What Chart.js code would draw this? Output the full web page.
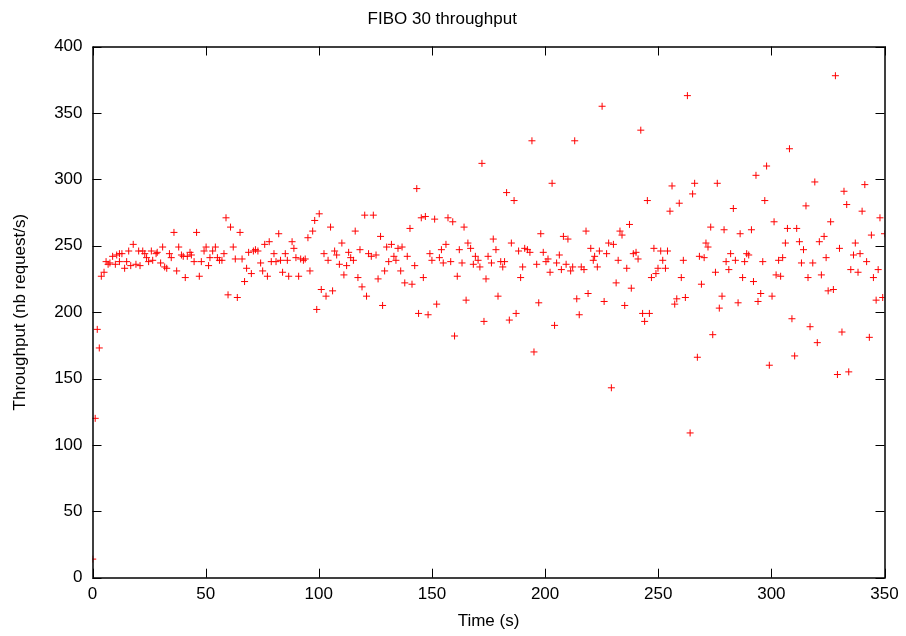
<!DOCTYPE html>
<html>
<head>
<meta charset="utf-8">
<title>FIBO 30 throughput</title>
<script src="https://cdn.jsdelivr.net/npm/chart.js@4/dist/chart.umd.min.js"></script>
<style>
    body { margin: 0; background: #fff; }
    canvas { display: block; }
</style>
</head>
<body>
<canvas id="chart" width="906" height="636"></canvas>
<script>
// time (s) and throughput (nb request/s)
const times = [
    0.1, 1.2, 2.1, 3.0, 3.9, 5.1, 6.0, 6.9, 7.7, 8.9, 10.1, 10.7, 11.9, 11.9, 13.0, 14.2, 15.1, 16.0, 16.9, 18.0,
    19.2, 20.4, 21.0, 22.2, 23.1, 23.9, 24.8, 26.0, 26.6, 28.1, 28.6, 30.1, 31.0, 31.9, 32.8, 34.0, 34.8, 36.0, 37.2, 38.1,
    39.3, 40.1, 41.0, 41.9,
    43.1, 43.7, 44.9, 46.0, 47.2, 48.1, 49.3, 50.2, 51.3, 51.9, 53.1, 54.3, 55.2, 56.1, 57.2, 58.1, 59.0, 59.9, 61.0, 62.2,
    63.1, 64.0, 65.2, 66.1, 67.2, 68.1, 69.0, 70.2, 71.1, 72.0, 73.1, 74.3, 75.2, 76.1, 77.3, 78.1, 79.0, 80.2, 81.1, 82.3,
    83.1, 84.0, 85.2, 86.1, 86.7,
    88.2, 89.0, 89.9, 91.1, 92.0, 93.2, 94.0, 95.2, 96.1, 97.3, 98.2, 99.1, 100.2, 101.1, 102.3, 103.2, 104.1, 105.2, 106.1, 107.0,
    107.9, 109.1, 110.2, 111.1, 112.3, 113.2, 114.1, 115.3, 116.1, 117.3, 118.2, 119.1, 120.3, 121.1, 122.0, 123.2, 124.1, 125.3, 126.2, 127.3,
    128.2, 129.1, 130.0, 130.9,
    132.1, 133.2, 134.1, 135.0, 136.2, 136.8, 138.0, 139.1, 140.3, 141.2, 142.4, 143.3, 144.1, 145.3, 146.2, 147.1, 148.3, 149.1, 150.0, 151.2,
    152.1, 153.3, 154.2, 155.0, 156.2, 157.1, 158.3, 159.2, 160.0, 161.2, 162.1, 163.3, 164.2, 165.1, 165.9, 167.1, 168.3, 169.2, 170.4, 171.2,
    172.1, 173.0, 173.9, 174.8,
    176.3, 177.1, 178.3, 179.2, 180.4, 181.3, 182.1, 183.0, 184.2, 185.1, 186.3, 187.2, 188.3, 189.2, 190.1, 191.0, 192.2, 193.3, 194.2, 195.1,
    196.3, 197.2, 198.1, 199.2, 200.4, 201.3, 202.2, 203.1, 204.2, 205.1, 206.3, 207.2, 208.1, 209.3, 210.1, 211.3, 212.2, 213.1, 214.0, 215.1,
    216.0, 217.2, 218.1, 219.0,
    220.2, 221.3, 221.9, 223.1, 224.0, 225.2, 226.1, 227.2, 228.1, 229.3, 230.2, 231.4, 232.3, 233.1, 234.0, 235.2, 236.1, 237.3, 238.1, 239.0,
    240.2, 241.1, 242.3, 243.1, 244.0, 245.2, 246.1, 247.0, 248.1, 249.0, 249.9, 251.1, 252.0, 253.2, 254.1, 255.2, 256.1, 257.3, 258.2, 259.3,
    260.2, 261.1, 262.0, 262.9,
    264.1, 265.2, 266.1, 267.3, 268.2, 269.1, 270.3, 271.1, 272.0, 273.2, 274.1, 275.3, 276.1, 277.0, 278.2, 279.1, 280.0, 281.2, 282.0, 283.2,
    284.1, 285.3, 286.2, 287.3, 288.2, 289.1, 290.0, 291.2, 292.1, 293.2, 294.1, 295.3, 296.2, 297.1, 297.9, 299.1, 300.3, 301.2, 302.1, 303.2,
    304.1, 305.0, 306.2, 307.1,
    308.0, 309.1, 310.3, 311.2, 312.4, 313.3, 314.2, 315.3, 316.2, 317.1, 318.3, 319.2, 320.3, 321.2, 322.1, 323.3, 324.2, 325.1, 326.2, 327.4,
    328.3, 329.2, 330.1, 331.2, 332.1, 333.3, 334.2, 335.1, 336.3, 337.1, 338.3, 339.2, 340.1, 341.3, 342.1, 343.3, 344.2, 345.1, 346.3, 347.2,
    348.0, 349.2, 350.0
];
const throughput = [
    14, 120, 187, 173, 227, 230, 238, 236, 237, 242, 236, 243, 244, 238, 244, 233, 238, 246, 235, 251,
    236, 246, 235, 246, 244, 241, 238, 246, 239, 244, 245, 237, 249, 234, 233, 244, 241, 260, 231, 249,
    243, 242, 226, 242,
    245, 243, 238, 260, 227, 238, 246, 249, 235, 241, 246, 249, 241, 239, 239, 244, 271, 213, 264, 249,
    240, 211, 260, 240, 223, 233, 245, 229, 246, 247, 246, 237, 231, 251, 227, 253, 238, 244, 238, 259,
    239, 230, 244, 239, 227,
    253, 248, 241, 227, 240, 239, 240, 256, 231, 261, 269, 202, 274, 217, 244, 212, 239, 264, 216, 246,
    243, 236, 252, 228, 235, 245, 241, 239, 261, 226, 247, 219, 273, 212, 244, 242, 273, 243, 225, 257,
    205, 231, 249, 238,
    251, 242, 239, 248, 231, 249, 222, 242, 263, 221, 235, 293, 199, 271, 226, 272, 198, 244, 239, 270,
    206, 241, 247, 237, 251, 271, 238, 268, 182, 227, 247, 237, 264, 209, 252, 248, 236, 242, 239, 234,
    312, 193, 225, 242,
    237, 255, 247, 212, 238, 234, 238, 290, 194, 252, 284, 199, 246, 226, 234, 248, 247, 245, 329, 170,
    236, 207, 259, 245, 238, 240, 230, 297, 190, 237, 243, 232, 257, 236, 255, 231, 234, 329, 210, 198,
    234, 232, 261, 214,
    248, 239, 242, 234, 246, 355, 208, 244, 252, 143, 251, 222, 239, 261, 258, 205, 233, 266, 218, 244,
    245, 240, 337, 199, 193, 284, 199, 226, 248, 229, 233, 246, 239, 233, 246, 276, 295, 206, 210, 282,
    226, 239, 211, 363,
    109, 289, 297, 166, 242, 221, 241, 252, 249, 264, 183, 230, 297, 203, 212, 262, 238, 232, 244, 278,
    239, 207, 259, 226, 238, 244, 243, 262, 223, 303, 208, 214, 238, 284, 310, 160, 212, 268, 228, 239,
    227, 241, 252, 263,
    323, 195, 167, 263, 253, 237, 247, 280, 226, 189, 237, 298, 177, 253, 228, 257, 241, 216, 268, 217,
    378, 153, 248, 185, 291, 281, 155, 232, 243, 252, 230, 244, 276, 296, 238, 181, 258, 226, 209, 232,
    271, 211, 259
];

const xTicks = [0, 50, 100, 150, 200, 250, 300, 350];
const yTicks = [0, 50, 100, 150, 200, 250, 300, 350, 400];

const points = times.map((t, i) => ({ x: t, y: throughput[i] }));

// gnuplot style frame: box round the plot, ticks pointing inward on all four sides
const frameTicks = {
    id: 'frameTicks',
    afterDatasetsDraw(chart) {
        const { ctx, chartArea: a, scales: { x, y } } = chart;
        const len = 9;
        ctx.save();
        ctx.strokeStyle = '#000';
        ctx.lineWidth = 1;
        ctx.beginPath();
        xTicks.forEach(v => {
            const px = Math.round(x.getPixelForValue(v)) + 0.5;
            ctx.moveTo(px, a.bottom); ctx.lineTo(px, a.bottom - len);
            ctx.moveTo(px, a.top); ctx.lineTo(px, a.top + len);
        });
        yTicks.forEach(v => {
            const py = Math.round(y.getPixelForValue(v)) + 0.5;
            ctx.moveTo(a.left, py); ctx.lineTo(a.left + len, py);
            ctx.moveTo(a.right, py); ctx.lineTo(a.right - len, py);
        });
        ctx.stroke();
        ctx.lineWidth = 1.5;
        ctx.strokeRect(Math.round(a.left), Math.round(a.top), Math.round(a.width), Math.round(a.height));
        ctx.restore();
    }
};

Chart.defaults.font.family = '"Liberation Sans", Arial, sans-serif';
Chart.defaults.font.size = 17;
Chart.defaults.color = '#000';

new Chart(document.getElementById('chart'), {
    type: 'scatter',
    data: {
        datasets: [{
            data: points,
            pointStyle: 'cross',
            pointRadius: 3.5,
            pointBorderWidth: 1,
            borderColor: 'rgb(255, 0, 0)',
            backgroundColor: 'rgb(255, 0, 0)'
        }]
    },
    options: {
        responsive: false,
        animation: false,
        devicePixelRatio: 1,
        layout: { padding: { left: 0, right: 21.5, top: 0, bottom: 0 } },
        plugins: {
            legend: { display: false },
            tooltip: { enabled: false },
            title: {
                display: true,
                text: 'FIBO 30 throughput',
                font: { size: 17, weight: 'normal' },
                padding: { top: 9, bottom: 17.1 }
            }
        },
        scales: {
            x: {
                type: 'linear',
                min: 0,
                max: 350,
                grid: { display: false, drawTicks: false, tickLength: 0 },
                border: { display: false },
                ticks: { stepSize: 50, padding: 6, maxRotation: 0 },
                title: { display: true, text: 'Time (s)', padding: { top: 0, bottom: 4 } },
                afterFit(scale) { scale.height = 58.3; }
            },
            y: {
                min: 0,
                max: 400,
                grid: { display: false, drawTicks: false, tickLength: 0 },
                border: { display: false },
                ticks: { stepSize: 50, padding: 10 },
                title: { display: true, text: 'Throughput (nb request/s)', padding: { top: 10, bottom: 0 } },
                afterFit(scale) { scale.width = 92.5; }
            }
        }
    },
    plugins: [frameTicks]
});
</script>
</body>
</html>
